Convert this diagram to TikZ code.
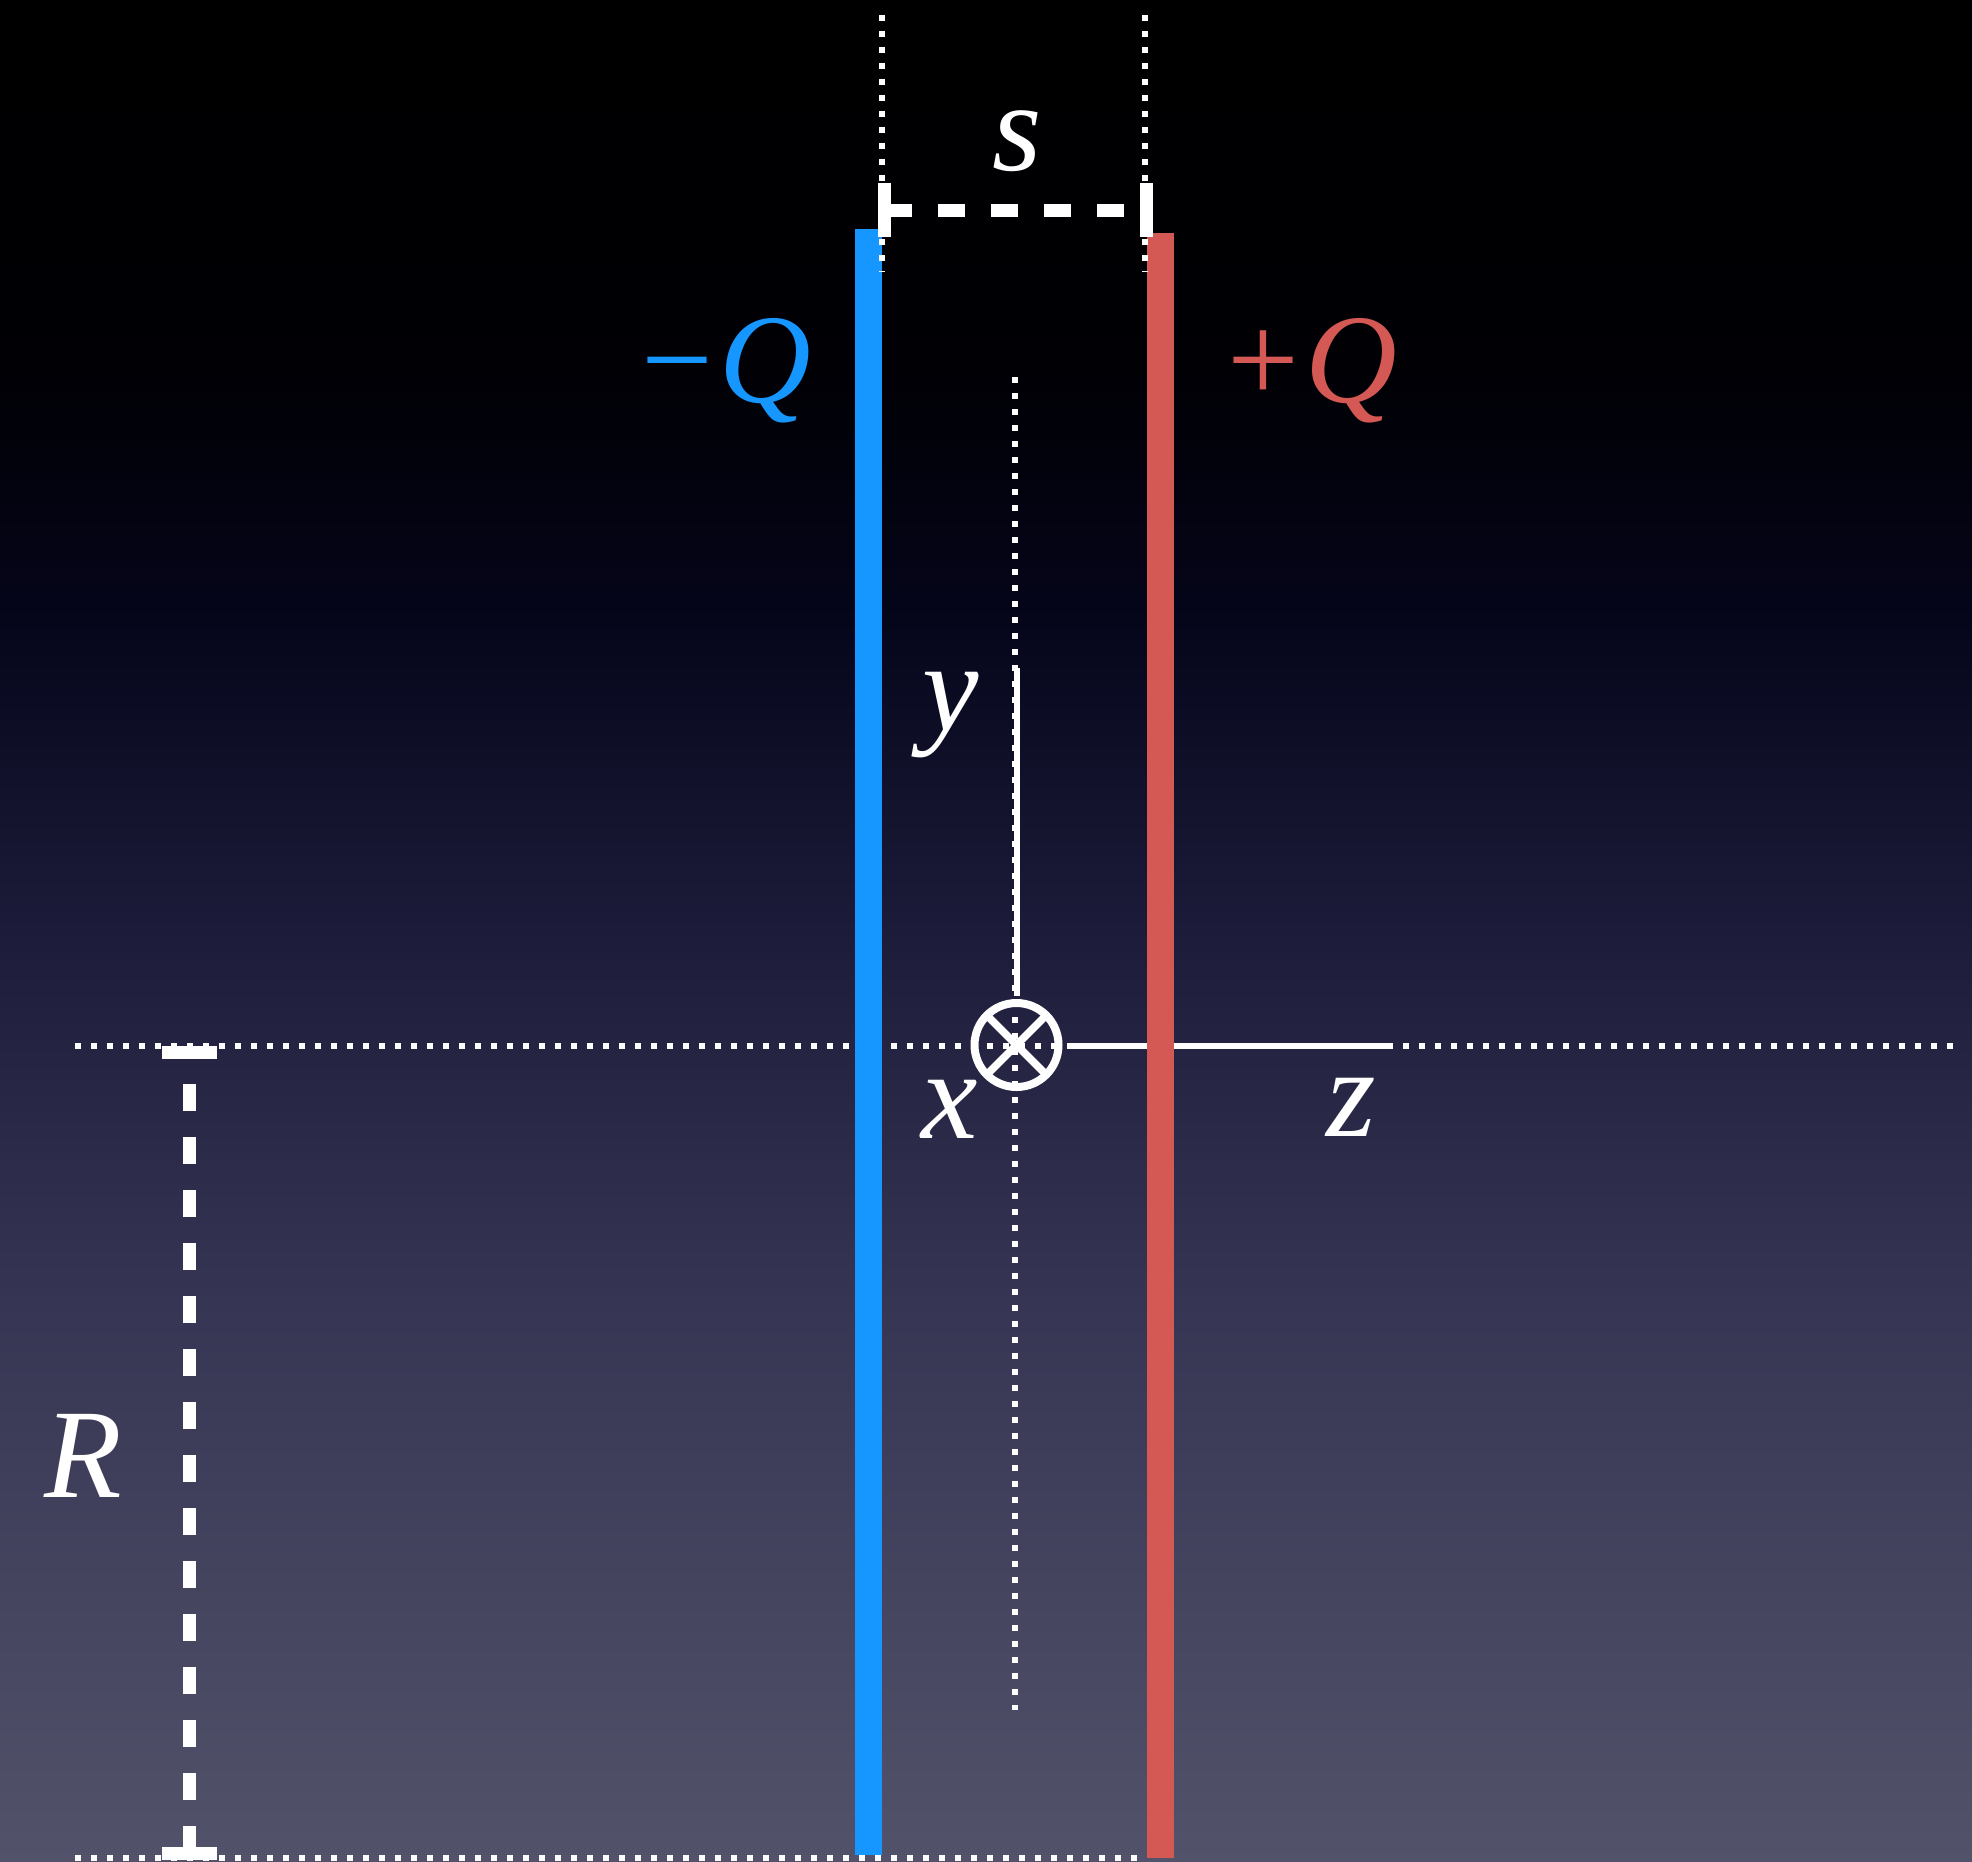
\documentclass[tikz,border=0pt]{standalone}
\usepackage{fontspec}
\setmainfont{Liberation Serif}
\definecolor{bgA}{RGB}{82,82,106}
\definecolor{bgB}{RGB}{54,54,84}
\definecolor{bgC}{RGB}{28,28,58}
\definecolor{bgD}{RGB}{6,6,28}
\definecolor{bgE}{RGB}{0,0,5}
\definecolor{bgF}{RGB}{0,0,0}
\definecolor{negblue}{RGB}{21,151,255}
\definecolor{posred}{RGB}{212,88,84}
\pgfdeclareverticalshading{bgshade}{100bp}{color(0bp)=(bgA); color(25bp)=(bgA); color(40bp)=(bgB); color(50bp)=(bgC); color(58bp)=(bgD); color(65bp)=(bgE); color(75bp)=(bgF); color(100bp)=(bgF)}
\begin{document}
\begin{tikzpicture}[x=1pt,y=-1pt,
  dotline/.style={white,line width=6pt,dash pattern=on 6pt off 10pt},
  dimline/.style={white,line width=13pt,dash pattern=on 27pt off 26pt},
  tickline/.style={white,line width=13pt},
  axisline/.style={white,line width=5.5pt},
  lbl/.style={inner sep=0pt,anchor=base,font=\fontsize{127}{127}\selectfont\itshape}]
\useasboundingbox (0,0) rectangle (1972,1861);
\shade[shading=bgshade] (0,0) rectangle (1972,1861);
% guide lines
\coordinate (hL) at (75,1046);
\coordinate (hR) at (1955,1046);
\coordinate (bL) at (75,1858);
\coordinate (bR) at (1140,1858);
\coordinate (vT) at (1015,377);
\coordinate (vB) at (1015,1710);
\draw[dotline] (hL) -- (hR);
\draw[dotline] (bL) -- (bR);
\draw[dotline] (vT) -- (vB);
% axes
\coordinate (zS) at (1067,1046);
\coordinate (zE) at (1392,1046);
\coordinate (yS) at (1017,996);
\coordinate (yE) at (1017,668);
\draw[axisline] (zS) -- (zE);
\draw[axisline] (yS) -- (yE);
\node[circle,draw=white,line width=8pt,minimum size=84pt,inner sep=0pt,outer sep=0pt] (c) at (1016.5,1045) {};
\draw[white,line width=7.5pt] (c.north east) -- (c.south west) (c.north west) -- (c.south east);
% plates
\fill[negblue] (855,229) rectangle (882,1855);
\fill[posred] (1147,233) rectangle (1174,1858);
% top dotted guides
\coordinate (gLT) at (882,15);
\coordinate (gLB) at (882,272);
\coordinate (gRT) at (1145,15);
\coordinate (gRB) at (1145,272);
\draw[dotline] (gLT) -- (gLB);
\draw[dotline] (gRT) -- (gRB);
% s dimension
\coordinate (sL) at (885,210);
\coordinate (sR) at (1146,210);
\draw[dimline] (sL) -- (sR);
\draw[tickline] (884.5,183) -- (884.5,237);
\draw[tickline] (1146.5,183) -- (1146.5,237);
% R dimension
\coordinate (rT) at (189.5,1052);
\coordinate (rB) at (189.5,1853);
\draw[dimline] (rB) -- (rT);
\draw[tickline] (162,1052.5) -- (217,1052.5);
\draw[tickline] (162,1853) -- (217,1853);
% labels
\node[lbl,white] (ls) at (1017,170) {s};
\node[lbl,negblue] (lnq) at (722,402) {−Q};
\node[lbl,posred] (lpq) at (1308,402) {+Q};
\node[lbl,white] (ly) at (951,730) {y};
\node[lbl,white] (lx) at (950,1138) {x};
\node[lbl,white] (lz) at (1351,1136) {z};
\node[lbl,white] (lR) at (83,1497) {R};
\end{tikzpicture}
\end{document}
